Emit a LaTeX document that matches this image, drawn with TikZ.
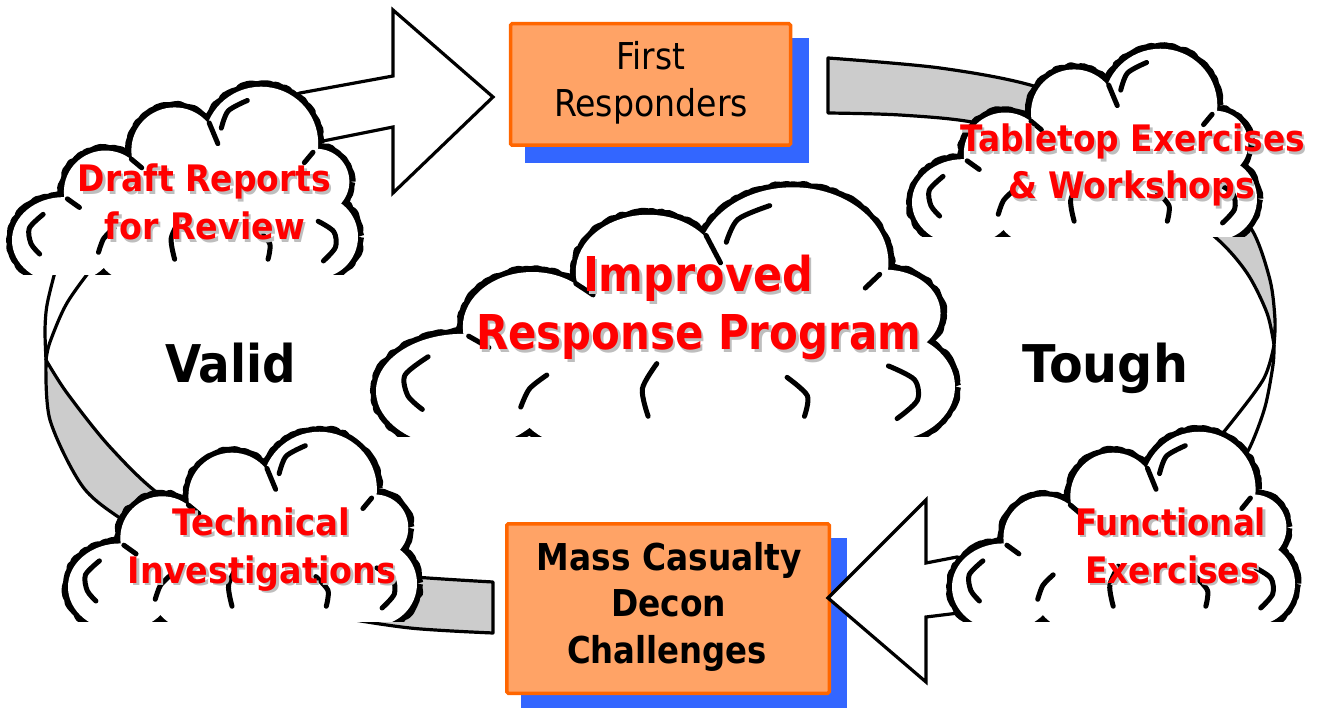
\documentclass[tikz,border=0pt]{standalone}
\usepackage{fontspec}
\setmainfont{DejaVu Sans}
\usepackage{graphicx}
\usetikzlibrary{decorations.pathmorphing}

\definecolor{boxfill}{RGB}{255,163,102}
\definecolor{boxline}{RGB}{255,102,0}
\definecolor{boxshadow}{RGB}{51,102,255}
\definecolor{bandgray}{RGB}{204,204,204}
\definecolor{txtshadow}{RGB}{190,190,190}
\definecolor{txtred}{RGB}{255,0,0}

\tikzset{
 cloudedge/.style={draw=black, line width=12pt, line join=round, decorate,
   decoration={random steps, segment length=4pt, amplitude=1.1pt}},
 cloudinner/.style={draw=black, line width=5pt, line cap=round, line join=round},
 band/.style={fill=bandgray, draw=black, line width=3.2pt, line join=round},
 bandedge/.style={draw=black, line width=3.2pt},
 blockarrow/.style={fill=white, draw=black, line width=3.2pt, line join=miter},
 boxshape/.style={rectangle, fill=boxfill, draw=boxline, line width=3.5pt, inner sep=0pt, rounded corners=1.5pt},
 boxshade/.style={rectangle, fill=boxshadow, inner sep=0pt},
 lbl/.style={inner sep=0pt, anchor=base},
}

% cloud: x0, y0, xscale, yscale (normalised box 100 x 55)
\newcommand\cloud[4]{%
 \begin{scope}
  \clip ({#1-20},{#2-20}) rectangle ({#1+#3*100+20},{#2+#4*55});
  \foreach \u/\v/\rx/\ry in {15/45/15/12.5, 27/31/12/12, 47/19/12.5/12.5, 72/17/16.5/16.5,
     88/28/9.5/9.5, 88/44/12/12, 35/46/11/11, 60/45/13/13, 47/49/9/9, 76/49/10/10}
   \draw[cloudedge] ({#1+#3*\u},{#2+#4*\v}) ellipse [x radius={#3*\rx}, y radius={#4*\ry}];
  \foreach \u/\v/\rx/\ry in {15/45/15/12.5, 27/31/12/12, 47/19/12.5/12.5, 72/17/16.5/16.5,
     88/28/9.5/9.5, 88/44/12/12, 35/46/11/11, 60/45/13/13, 47/49/9/9, 76/49/10/10,
     55/33/15/15, 72/30/12/12, 40/36/9/9}
   \fill[white] ({#1+#3*\u},{#2+#4*\v}) ellipse [x radius={#3*\rx}, y radius={#4*\ry}];
  \begin{scope}[shift={(#1,#2)}, xscale=#3, yscale=#4]
   \draw[cloudinner] plot[smooth] coordinates {(9,37.5) (5,41.5) (5.5,46) (8,49)};
   \draw[cloudinner] plot[smooth] coordinates {(60.5,12.5) (62.5,7.5) (68,4.5)};
   \draw[cloudinner] plot[smooth] coordinates {(88.5,39.5) (93,42.5) (93.5,47) (90,51)};
   \draw[cloudinner] plot[smooth] coordinates {(25,48.5) (26.5,44.5) (29.5,41.5)};
   \draw[cloudinner] plot[smooth] coordinates {(48.5,39) (46,44.5) (47,50.5)};
   \draw[cloudinner] plot[smooth] coordinates {(71,42) (74.5,46) (74,50.5)};
   \draw[cloudinner] (57,11) -- (59.5,17);
   \draw[cloudinner] (87,19.5) -- (84.5,22.5);
   \draw[cloudinner] (34.5,21.5) -- (37.5,24);
   \draw[cloudinner] (16,33) -- (19.5,35.5);
  \end{scope}
 \end{scope}}

% red label with grey shadow: name, x, y, width, size, text
\newcommand\redline[6]{%
 \node[lbl, text=txtshadow, font=\bfseries\fontsize{#5}{#5}\selectfont] (#1-sh) at (#2+2.5,#3+2.5) {\resizebox{#4pt}{\height}{#6}};
 \node[lbl, text=txtred, font=\bfseries\fontsize{#5}{#5}\selectfont] (#1) at (#2,#3) {\resizebox{#4pt}{\height}{#6}};}

\begin{document}
\begin{tikzpicture}[x=1pt, y=-1pt]
\useasboundingbox (0,0) rectangle (1326,708);
\fill[white] (0,0) rectangle (1326,708);

% ---- left band (gray part + white twisted part)
\draw[band] plot[smooth] coordinates {(46,360) (50,420) (83,487) (127,523) (200,570) (270,600) (327,615) (410,628) (493,633)}
  -- (493,582)
  -- plot[smooth] coordinates {(493,582) (415,577) (330,568) (250,545) (163,497) (110,447) (67,393) (46,360)} -- cycle;
\draw[bandedge] plot[smooth] coordinates {(46,360) (45,330) (47,305) (55,272) (62,250)};
\draw[bandedge] plot[smooth] coordinates {(46,360) (50,342) (67,303) (97,262) (120,240)};

% ---- right band
\draw[band] plot[smooth] coordinates {(828,58) (940,68) (1037,87) (1140,130) (1215,190) (1252,230) (1270,280) (1275,320) (1274,345)}
  -- plot[smooth] coordinates {(1274,345) (1267,313) (1247,273) (1215,237) (1150,190) (1070,150) (977,123) (900,115) (828,113)} -- cycle;
\draw[bandedge] plot[smooth] coordinates {(1274,345) (1273,365) (1265,407) (1250,447) (1230,480)};
\draw[bandedge] plot[smooth] coordinates {(1274,345) (1263,380) (1223,433) (1200,460)};

% ---- boxes
\node[boxshade, minimum width=284pt, minimum height=125pt] (firstsh) at (667,100.5) {};
\node[boxshape, minimum width=280pt, minimum height=121.5pt] (first) at (650.5,84.5) {};
\node[boxshade, minimum width=326pt, minimum height=173pt] (masssh) at (684,624.5) {};
\node[boxshape, minimum width=322.5pt, minimum height=169.5pt] (mass) at (668,608.5) {};

% ---- block arrows
\draw[blockarrow] (250,112) -- (300,93) -- (393,76) -- (393,10) -- (493,97) -- (393,193) -- (393,127) -- (318,142) -- (265,160);
\draw[blockarrow] (1012,572) -- (957,557) -- (926,563) -- (926,500) -- (828,598) -- (926,682) -- (926,617) -- (975,611) -- (1012,605);

% ---- clouds
\cloud{12}{85}{3.46}{3.45}
\cloud{912}{47}{3.45}{3.45}
\cloud{68}{430}{3.49}{3.49}
\cloud{952}{430}{3.43}{3.49}
\cloud{376}{185}{5.79}{4.58}

% ---- box texts
\node[lbl, font=\fontsize{37}{37}\selectfont] (first1) at (650.5,70) {\resizebox{69pt}{\height}{First}};
\node[lbl, font=\fontsize{37}{37}\selectfont] (first2) at (651,117) {\resizebox{194pt}{\height}{Responders}};
\node[lbl, font=\bfseries\fontsize{37}{37}\selectfont] (mass1) at (669.5,570) {\resizebox{265pt}{\height}{Mass Casualty}};
\node[lbl, font=\bfseries\fontsize{37}{37}\selectfont] (mass2) at (668.5,616) {\resizebox{115pt}{\height}{Decon}};
\node[lbl, font=\bfseries\fontsize{37}{37}\selectfont] (mass3) at (667,663) {\resizebox{200pt}{\height}{Challenges}};

% ---- red labels
\redline{draft1}{204.5}{192}{253}{36.5}{Draft Reports}
\redline{draft2}{205}{240}{200}{36.5}{for Review}
\redline{table1}{1132.5}{152}{345}{36.5}{Tabletop Exercises}
\redline{table2}{1131.5}{199}{247}{36.5}{\& Workshops}
\redline{tech1}{261.5}{535}{177}{36.5}{Technical}
\redline{tech2}{262}{583}{268}{36.5}{Investigations}
\redline{func1}{1170.5}{535}{191}{36.5}{Functional}
\redline{func2}{1172.5}{583}{175}{36.5}{Exercises}
\redline{impr1}{698}{292}{230}{48}{Improved}
\redline{impr2}{698.5}{350}{445}{48}{Response Program}

% ---- side words
\node[lbl, font=\bfseries\fontsize{52}{52}\selectfont] (valid) at (230.5,383) {\resizebox{131pt}{\height}{Valid}};
\node[lbl, font=\bfseries\fontsize{52}{52}\selectfont] (tough) at (1105,383) {\resizebox{166pt}{\height}{Tough}};
\end{tikzpicture}
\end{document}
